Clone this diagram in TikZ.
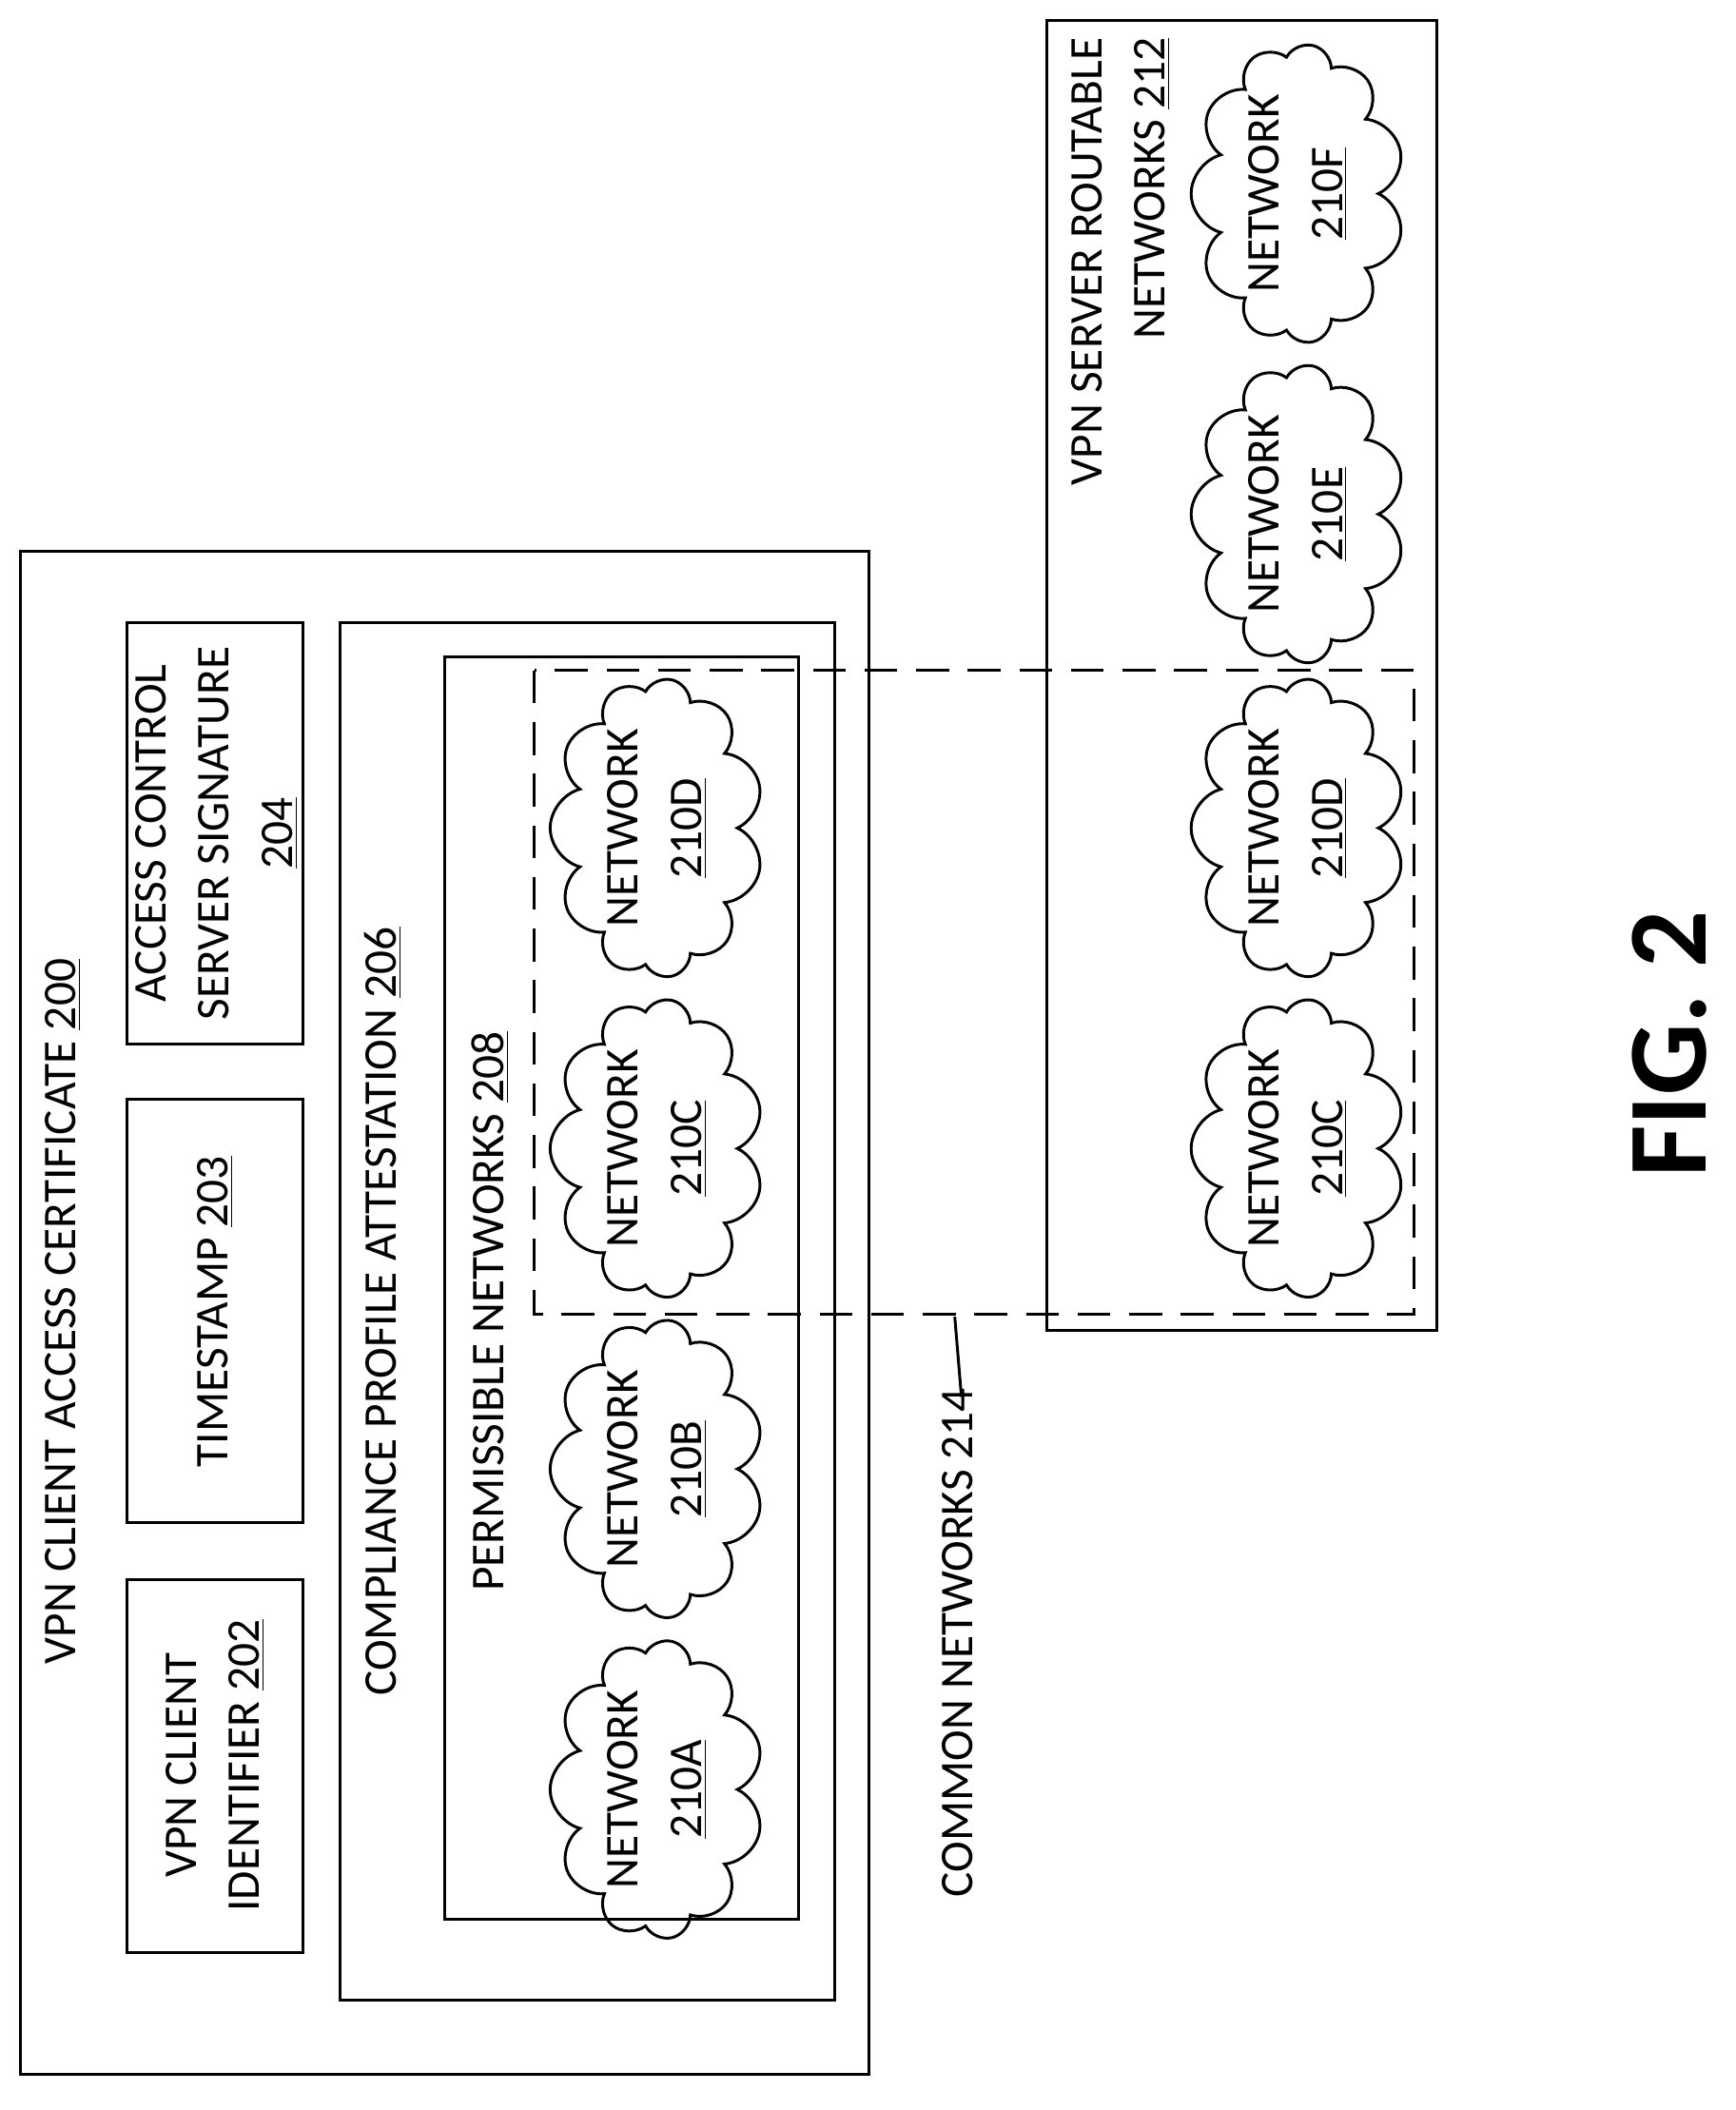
\documentclass[tikz,border=0pt]{standalone}
\usepackage{fontspec}
\setmainfont{Carlito}
\usetikzlibrary{shapes.symbols, decorations.pathmorphing}

\tikzset{
  box/.style={draw, line width=1.2pt},
  label/.style={rotate=90, font=\fontsize{20}{27}\selectfont, align=center, inner sep=0pt},
  net/.style={cloud, draw, line width=1.2pt, rotate=90, cloud puffs=11, cloud ignores aspect,
    minimum width=4.4cm, minimum height=3.2cm, align=center, inner sep=0pt,
    font=\fontsize{20}{27}\selectfont}
}

\begin{document}
\begin{tikzpicture}[x=0.02cm, y=-0.02cm]
  \useasboundingbox (0,0) rectangle (1300,1580);

  % certificate
  \draw[box] (15,413) rectangle (651,1553);
  \node[label] (certlbl) at (47,982) {VPN CLIENT ACCESS CERTIFICATE \underline{200}};

  \draw[box] (95,1183) rectangle (227,1462);
  \node[label] (idlbl) at (161,1322) {VPN CLIENT\\IDENTIFIER \underline{202}};
  \draw[box] (95,823) rectangle (227,1140);
  \node[label] (tslbl) at (161,982) {TIMESTAMP \underline{203}};
  \draw[box] (95,466) rectangle (227,782);
  \node[label] (siglbl) at (162,624) {ACCESS CONTROL\\SERVER SIGNATURE\\\underline{204}};

  \draw[box] (255,466) rectangle (625,1498);
  \node[label] (attlbl) at (287,982) {COMPLIANCE PROFILE ATTESTATION \underline{206}};
  \draw[box] (333,492) rectangle (598,1437);
  \node[label] (permlbl) at (367,982) {PERMISSIBLE NETWORKS \underline{208}};

  \node[net] (netA) at (492,1340) {NETWORK\\\underline{210A}};
  \node[net] (netB) at (492,1100) {NETWORK\\\underline{210B}};
  \node[net] (netC) at (492,860) {NETWORK\\\underline{210C}};
  \node[net] (netD) at (492,620) {NETWORK\\\underline{210D}};

  % server routable
  \draw[box] (784,15) rectangle (1076,996);
  \node[label, align=right, anchor=east] (srvlbl) at (839,28) {VPN SERVER ROUTABLE\\NETWORKS \underline{212}};

  \node[net] (srvC) at (972,860) {NETWORK\\\underline{210C}};
  \node[net] (srvD) at (972,620) {NETWORK\\\underline{210D}};
  \node[net] (srvE) at (972,385) {NETWORK\\\underline{210E}};
  \node[net] (srvF) at (972,145) {NETWORK\\\underline{210F}};

  % common networks
  \draw[line width=1.2pt, dash pattern=on 14pt off 8pt] (400,502) rectangle (1059,984);
  \coordinate (comtop) at (715,986);
  \coordinate (combot) at (720,1046);
  \draw[line width=1.2pt, decorate, decoration={snake, amplitude=5, segment length=60}] (comtop) -- (combot);
  \node[label] (comlbl) at (717,1230) {COMMON NETWORKS 214};

  \node[rotate=90, font=\fontsize{48}{50}\selectfont\bfseries] (fig) at (1250,782) {FIG. 2};
\end{tikzpicture}
\end{document}
